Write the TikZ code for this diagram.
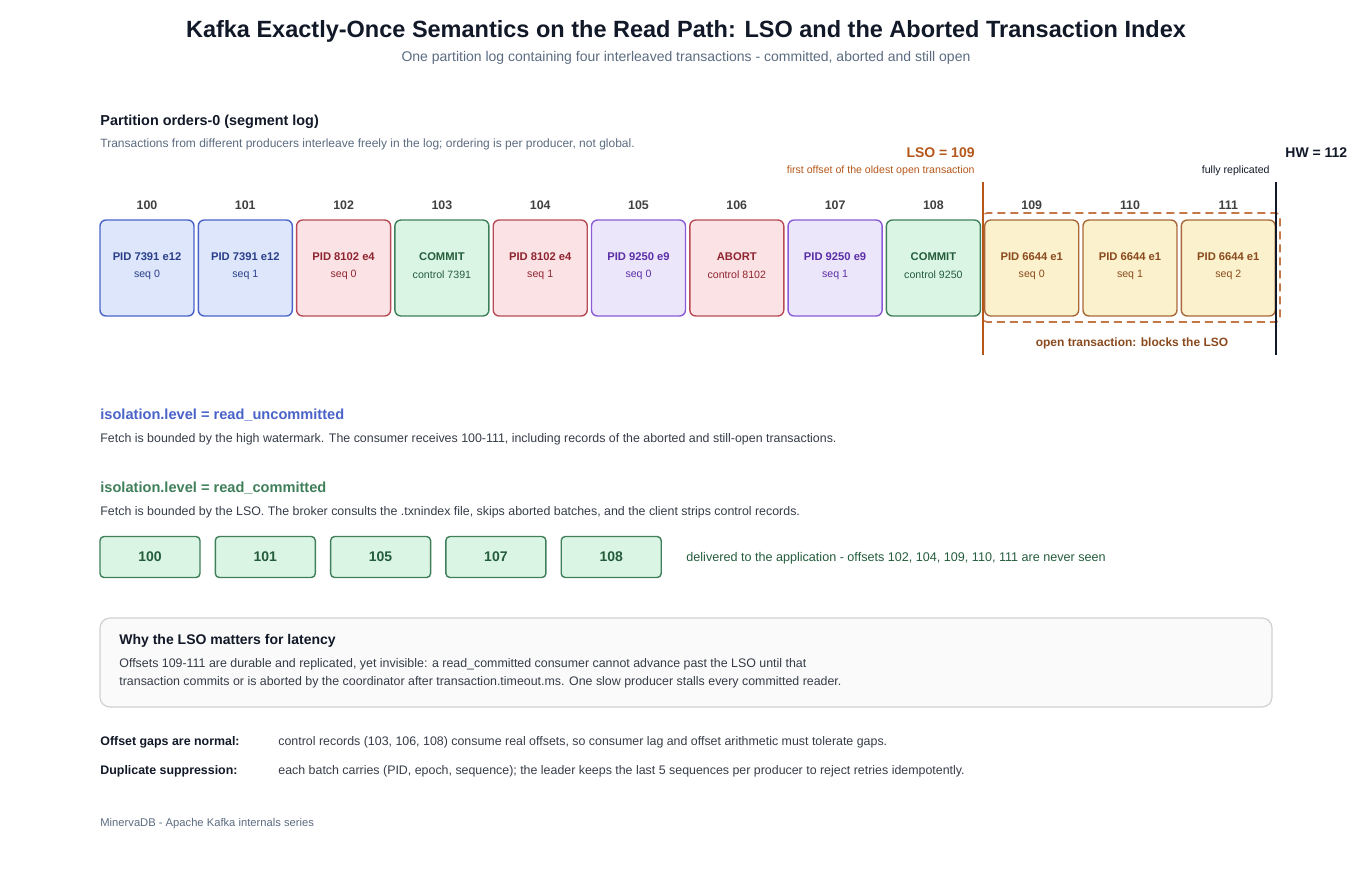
\documentclass[tikz,border=0pt]{standalone}
\usepackage{fontspec}
\setmainfont{Liberation Sans}
\begin{document}
\begin{tikzpicture}[x=0.5pt,y=-0.5pt,
 fs/.style={font=\fontsize{#1}{#1}\selectfont},
 lbl/.style={font=\bfseries\fontsize{6.2}{6.2}\selectfont,text=black!75},
 gbox/.style={draw=cmG,fill=fillG,line width=0.7pt,rounded corners=2pt,minimum width=50pt,minimum height=20.5pt,inner sep=0pt,font=\bfseries\fontsize{7}{7}\selectfont,text=txtG}]
\definecolor{cmB}{HTML}{4A63C8}\definecolor{fillB}{HTML}{DDE6FA}\definecolor{txtB}{HTML}{2A3F8A}
\definecolor{cmR}{HTML}{B84A55}\definecolor{fillR}{HTML}{FBE3E5}\definecolor{txtR}{HTML}{8E2430}
\definecolor{cmG}{HTML}{3F7F5A}\definecolor{fillG}{HTML}{DAF5E4}\definecolor{txtG}{HTML}{245C3C}
\definecolor{cmP}{HTML}{8A5CD6}\definecolor{fillP}{HTML}{ECE6FB}\definecolor{txtP}{HTML}{5A2EA6}
\definecolor{cmY}{HTML}{A8683A}\definecolor{fillY}{HTML}{FBF1CC}\definecolor{txtY}{HTML}{8A4A1E}
\definecolor{lso}{HTML}{B5561A}\definecolor{slate}{HTML}{5B6B80}\definecolor{ink}{HTML}{111827}
\useasboundingbox (0,0) rectangle (1372,869);
\node[font=\bfseries\fontsize{11.75}{11.75}\selectfont,text=ink] (title) at (686,31) {Kafka Exactly-Once Semantics on the Read Path: LSO and the Aborted Transaction Index};
\node[fs=7,text=slate] (sub) at (686,58) {One partition log containing four interleaved transactions - committed, aborted and still open};
\node[anchor=west,font=\bfseries\fontsize{7.2}{7.2}\selectfont,text=ink,inner sep=0] (ph) at (100,122) {Partition orders-0 (segment log)};
\node[anchor=west,fs=6,text=slate,inner sep=0] (pd) at (100,144) {Transactions from different producers interleave freely in the log; ordering is per producer, not global.};
\foreach \i/\t/\s/\c in {0/PID 7391 e12/seq 0/B,1/PID 7391 e12/seq 1/B,2/PID 8102 e4/seq 0/R,3/COMMIT/control 7391/G,4/PID 8102 e4/seq 1/R,5/PID 9250 e9/seq 0/P,6/ABORT/control 8102/R,7/PID 9250 e9/seq 1/P,8/COMMIT/control 9250/G,9/PID 6644 e1/seq 0/Y,10/PID 6644 e1/seq 1/Y,11/PID 6644 e1/seq 2/Y}{
 \pgfmathsetmacro\xx{147+98.3*\i}
 \pgfmathtruncatemacro\off{100+\i}
 \node[draw=cm\c,fill=fill\c,line width=0.7pt,rounded corners=3pt,minimum width=47pt,minimum height=48pt,inner sep=0pt] (b\i) at (\xx,268) {};
 \node[font=\bfseries\fontsize{5.6}{5.6}\selectfont,text=txt\c] (t\i) at (\xx,257) {\t};
 \node[fs=5.3,text=txt\c] (s\i) at (\xx,275) {\s};
 \node[lbl] (o\i) at (\xx,205) {\off};
}
\coordinate (d1) at (983,213); \coordinate (d2) at (1280,322);
\draw[draw=lso!80,line width=0.8pt,dash pattern=on 4pt off 2.5pt,rounded corners=2pt] (d1) rectangle (d2);
\coordinate (l1) at (983,182); \coordinate (l2) at (983,355);
\draw[lso,line width=1pt] (l1) -- (l2);
\coordinate (h1) at (1276,182); \coordinate (h2) at (1276,355);
\draw[ink,line width=1pt] (h1) -- (h2);
\node[anchor=east,font=\bfseries\fontsize{7}{7}\selectfont,text=lso,inner sep=0] (lso) at (975,153) {LSO = 109};
\node[anchor=east,fs=5.3,text=lso,inner sep=0] (lsod) at (975,171) {first offset of the oldest open transaction};
\node[anchor=west,font=\bfseries\fontsize{7}{7}\selectfont,text=ink,inner sep=0] (hw) at (1285,153) {HW = 112};
\node[anchor=east,fs=5.3,text=ink,inner sep=0] (hwd) at (1270,171) {fully replicated};
\node[font=\bfseries\fontsize{6}{6}\selectfont,text=txtY] (open) at (1132,343) {open transaction: blocks the LSO};
\node[anchor=west,font=\bfseries\fontsize{7.3}{7.3}\selectfont,text=cmB,inner sep=0] (ru) at (100,415) {isolation.level = read\_uncommitted};
\node[anchor=west,fs=6.2,text=ink!85,inner sep=0] (rud) at (100,439) {Fetch is bounded by the high watermark. The consumer receives 100-111, including records of the aborted and still-open transactions.};
\node[anchor=west,font=\bfseries\fontsize{7.3}{7.3}\selectfont,text=cmG,inner sep=0] (rc) at (100,488) {isolation.level = read\_committed};
\node[anchor=west,fs=6.2,text=ink!85,inner sep=0] (rcd) at (100,512) {Fetch is bounded by the LSO. The broker consults the .txnindex file, skips aborted batches, and the client strips control records.};
\foreach \i/\n in {0/100,1/101,2/105,3/107,4/108}{
 \node[gbox] (g\i) at (150+115.3*\i,557) {\n};}
\node[anchor=west,fs=6.3,text=txtG,inner sep=0] (deliv) at (686,558) {delivered to the application - offsets 102, 104, 109, 110, 111 are never seen};
\coordinate (w1) at (100,618); \coordinate (w2) at (1272,707);
\draw[draw=black!18,fill=black!2,rounded corners=5pt,line width=0.6pt] (w1) rectangle (w2);
\node[anchor=west,font=\bfseries\fontsize{7}{7}\selectfont,text=ink,inner sep=0] (why) at (119,641) {Why the LSO matters for latency};
\node[anchor=north west,font=\fontsize{6.2}{9}\selectfont,text=ink!85,inner sep=0,align=left] (whyd) at (119,658) {Offsets 109-111 are durable and replicated, yet invisible: a read\_committed consumer cannot advance past the LSO until that\\ transaction commits or is aborted by the coordinator after transaction.timeout.ms. One slow producer stalls every committed reader.};
\node[anchor=west,font=\bfseries\fontsize{6.2}{6.2}\selectfont,text=ink,inner sep=0] (k1) at (100,742) {Offset gaps are normal:};
\node[anchor=west,fs=6.2,text=ink!85,inner sep=0] (v1) at (278,742) {control records (103, 106, 108) consume real offsets, so consumer lag and offset arithmetic must tolerate gaps.};
\node[anchor=west,font=\bfseries\fontsize{6.2}{6.2}\selectfont,text=ink,inner sep=0] (k2) at (100,771) {Duplicate suppression:};
\node[anchor=west,fs=6.2,text=ink!85,inner sep=0] (v2) at (278,771) {each batch carries (PID, epoch, sequence); the leader keeps the last 5 sequences per producer to reject retries idempotently.};
\node[anchor=west,fs=5.6,text=slate,inner sep=0] (foot) at (100,824) {MinervaDB - Apache Kafka internals series};
\end{tikzpicture}
\end{document}
